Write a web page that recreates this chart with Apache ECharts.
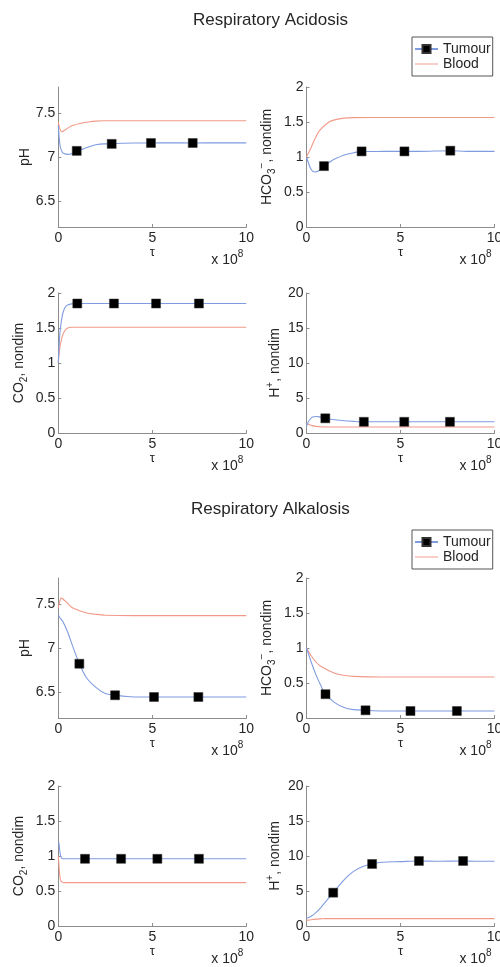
<!DOCTYPE html>
<html>
<head>
<meta charset="utf-8">
<script src="https://cdn.jsdelivr.net/npm/echarts@6/dist/echarts.min.js"></script>
<style>html,body{margin:0;padding:0;background:#fff}#c{width:500px;height:967px}</style>
</head>
<body>
<div id="c"></div>
<script>
// ---------- DATA (tau in units of 1e8) ----------
// Respiratory Acidosis: pH
const acidPhTau      = [0, 0.1, 0.2, 0.3, 0.5, 0.75, 1.3, 1.6, 2, 2.4, 3.4, 4, 6, 8.5, 10];
const acidPhTumour   = [7.36, 7.12, 7.06, 7.04, 7.03, 7.04, 7.09, 7.115, 7.14, 7.15, 7.158, 7.16, 7.162, 7.162, 7.162];
const acidPhBlood    = [7.40, 7.31, 7.29, 7.30, 7.33, 7.36, 7.39, 7.40, 7.41, 7.415, 7.415, 7.415, 7.415, 7.415, 7.415];
const acidPhMarkTau  = [0.98, 2.84, 4.93, 7.15];
const acidPhMarkVal  = [7.07, 7.15, 7.16, 7.16];
// Respiratory Acidosis: HCO3-
const acidHco3Tau    = [0, 0.25, 0.45, 0.7, 1.2, 1.5, 2, 2.5, 3.5, 4, 6, 8.5, 10];
const acidHco3Tumour = [1.0, 0.82, 0.785, 0.81, 0.92, 0.97, 1.03, 1.06, 1.078, 1.08, 1.08, 1.08, 1.08];
const acidHco3Blood  = [1.0, 1.14, 1.26, 1.38, 1.50, 1.53, 1.555, 1.563, 1.565, 1.565, 1.565, 1.565, 1.565];
const acidHco3MarkTau = [0.93, 2.93, 5.21, 7.65];
const acidHco3MarkVal = [0.87, 1.08, 1.08, 1.09];
// Respiratory Acidosis: CO2
const acidCo2Tau     = [0, 0.05, 0.1, 0.2, 0.3, 0.4, 0.5, 0.7, 1.5, 4, 6, 8.5, 10];
const acidCo2Tumour  = [1.0, 1.28, 1.47, 1.66, 1.76, 1.81, 1.83, 1.845, 1.85, 1.85, 1.85, 1.85, 1.85];
const acidCo2Blood   = [1.0, 1.15, 1.25, 1.37, 1.44, 1.48, 1.50, 1.51, 1.51, 1.51, 1.51, 1.51, 1.51];
const acidCo2MarkTau = [1.01, 2.96, 5.2, 7.48];
const acidCo2MarkVal = [1.85, 1.85, 1.85, 1.85];
// Respiratory Acidosis: H+
const acidHTau       = [0, 0.1, 0.2, 0.3, 0.5, 0.7, 1.5, 2, 2.5, 4, 6, 8.5, 10];
const acidHTumour    = [1.0, 1.6, 2.0, 2.25, 2.35, 2.3, 1.9, 1.75, 1.66, 1.6, 1.6, 1.6, 1.6];
const acidHBlood     = [1.3, 1.25, 1.15, 1.05, 0.95, 0.9, 0.86, 0.85, 0.85, 0.85, 0.85, 0.85, 0.85];
const acidHMarkTau   = [1.0, 3.05, 5.2, 7.63];
const acidHMarkVal   = [2.1, 1.6, 1.6, 1.6];
// Respiratory Alkalosis: pH
const alkPhTau       = [0, 0.1, 0.15, 0.25, 0.5, 0.75, 1.5, 2, 2.5, 4, 6, 8.5, 10];
const alkPhTumour    = [7.38, 7.34, 7.33, 7.30, 7.18, 7.03, 6.66, 6.55, 6.48, 6.44, 6.44, 6.44, 6.44];
const alkPhBlood     = [7.46, 7.55, 7.57, 7.56, 7.51, 7.46, 7.40, 7.385, 7.375, 7.37, 7.37, 7.37, 7.37];
const alkPhMarkTau   = [1.12, 3.02, 5.09, 7.45];
const alkPhMarkVal   = [6.82, 6.46, 6.44, 6.44];
// Respiratory Alkalosis: HCO3-
const alkHco3Tau     = [0, 0.25, 0.5, 0.75, 1.5, 2, 2.5, 4, 6, 10];
const alkHco3Tumour  = [1.0, 0.80, 0.62, 0.47, 0.22, 0.15, 0.12, 0.10, 0.10, 0.10];
const alkHco3Blood   = [1.0, 0.89, 0.80, 0.74, 0.64, 0.61, 0.595, 0.585, 0.585, 0.585];
const alkHco3MarkTau = [1.01, 3.14, 5.53, 8.0];
const alkHco3MarkVal = [0.34, 0.11, 0.10, 0.10];
// Respiratory Alkalosis: CO2
const alkCo2Tau      = [0, 0.03, 0.06, 0.1, 0.15, 0.2, 0.3, 0.6, 2, 4, 6, 8.5, 10];
const alkCo2Tumour   = [1.2, 1.19, 1.12, 1.03, 0.98, 0.965, 0.96, 0.96, 0.96, 0.96, 0.96, 0.96, 0.96];
const alkCo2Blood    = [1.0, 0.90, 0.78, 0.68, 0.64, 0.63, 0.62, 0.62, 0.62, 0.62, 0.62, 0.62, 0.62];
const alkCo2MarkTau  = [1.42, 3.34, 5.27, 7.48];
const alkCo2MarkVal  = [0.96, 0.96, 0.96, 0.96];
// Respiratory Alkalosis: H+
const alkHTau        = [0, 0.25, 0.5, 0.75, 1, 2, 2.5, 3, 4, 5, 7, 9, 10];
const alkHTumour     = [1.1, 1.4, 1.9, 2.6, 3.4, 6.6, 7.8, 8.5, 9.1, 9.2, 9.25, 9.25, 9.25];
const alkHBlood      = [0.8, 0.9, 0.98, 1.02, 1.05, 1.05, 1.05, 1.05, 1.05, 1.05, 1.05, 1.05, 1.05];
const alkHMarkTau    = [1.42, 3.49, 5.98, 8.33];
const alkHMarkVal    = [4.76, 8.86, 9.29, 9.29];

const xTicks = [0, 5, 10];
const titles = ['Respiratory Acidosis', 'Respiratory Alkalosis'];
const seriesNames = ['Tumour', 'Blood'];

// ---------- LAYOUT ----------
const BLUE = '#7f9ce0', RED = '#f29a88', AXIS = '#8c8c8c', TXT = '#262626';
const FONT = 'Liberation Sans, Arial, Helvetica, sans-serif';
const colLeft = [58.3, 306.5];
const rowTop = [87, 293, 578, 786];
const W = 188, H = 140;

const panels = [
  {r:0,c:0,tau:acidPhTau,tum:acidPhTumour,bl:acidPhBlood,mt:acidPhMarkTau,mv:acidPhMarkVal,ymin:6.2,ymax:7.8,ticks:[6.5,7,7.5],name:'pH',gap:22},
  {r:0,c:1,tau:acidHco3Tau,tum:acidHco3Tumour,bl:acidHco3Blood,mt:acidHco3MarkTau,mv:acidHco3MarkVal,ymin:0,ymax:2,ticks:[0,0.5,1,1.5,2],name:'HCO{sub|3}{sup|−}, nondim',gap:29},
  {r:1,c:0,tau:acidCo2Tau,tum:acidCo2Tumour,bl:acidCo2Blood,mt:acidCo2MarkTau,mv:acidCo2MarkVal,ymin:0,ymax:2,ticks:[0,0.5,1,1.5,2],name:'CO{sub|2}, nondim',gap:29},
  {r:1,c:1,tau:acidHTau,tum:acidHTumour,bl:acidHBlood,mt:acidHMarkTau,mv:acidHMarkVal,ymin:0,ymax:20,ticks:[0,5,10,15,20],name:'H{sup|+}, nondim',gap:21},
  {r:2,c:0,tau:alkPhTau,tum:alkPhTumour,bl:alkPhBlood,mt:alkPhMarkTau,mv:alkPhMarkVal,ymin:6.2,ymax:7.8,ticks:[6.5,7,7.5],name:'pH',gap:22},
  {r:2,c:1,tau:alkHco3Tau,tum:alkHco3Tumour,bl:alkHco3Blood,mt:alkHco3MarkTau,mv:alkHco3MarkVal,ymin:0,ymax:2,ticks:[0,0.5,1,1.5,2],name:'HCO{sub|3}{sup|−}, nondim',gap:29},
  {r:3,c:0,tau:alkCo2Tau,tum:alkCo2Tumour,bl:alkCo2Blood,mt:alkCo2MarkTau,mv:alkCo2MarkVal,ymin:0,ymax:2,ticks:[0,0.5,1,1.5,2],name:'CO{sub|2}, nondim',gap:29},
  {r:3,c:1,tau:alkHTau,tum:alkHTumour,bl:alkHBlood,mt:alkHMarkTau,mv:alkHMarkVal,ymin:0,ymax:20,ticks:[0,5,10,15,20],name:'H{sup|+}, nondim',gap:21}
];

function mergeTumour(tau, vals, mt, mv) {
  const pts = tau.map((t, i) => ({t, v: vals[i], m: false}));
  mt.forEach((t, i) => pts.push({t, v: mv[i], m: true}));
  pts.sort((a, b) => a.t - b.t);
  return pts.map(p => p.m ? {value: [p.t, p.v]} : {value: [p.t, p.v], symbol: 'none'});
}

const richName = {
  n:   {fontSize: 14, fontFamily: FONT, color: TXT, lineHeight: 20, verticalAlign: 'middle'},
  sub: {fontSize: 10, fontFamily: FONT, color: TXT, lineHeight: 20, verticalAlign: 'bottom'},
  sup: {fontSize: 10, fontFamily: FONT, color: TXT, lineHeight: 20, verticalAlign: 'top'}
};
function wrapName(s) {
  return s.split(/(\{(?:sub|sup)\|[^}]*\})/).filter(x => x.length).map(x => x.startsWith('{') ? x : '{n|' + x + '}').join('');
}

const grid = [], xAxis = [], yAxis = [], series = [], graphic = [];
panels.forEach((p, i) => {
  grid.push({left: colLeft[p.c], top: rowTop[p.r], width: W, height: H, outerBoundsMode: 'none', containLabel: false});
  xAxis.push({
    type: 'value', gridIndex: i, min: 0, max: 10, interval: 5,
    name: 'τ', nameLocation: 'middle', nameGap: 17,
    nameTextStyle: {fontSize: 13, fontFamily: FONT, color: TXT},
    axisLine: {show: true, lineStyle: {color: AXIS, width: 1}},
    axisTick: {show: true, inside: true, length: 3, lineStyle: {color: AXIS}},
    axisLabel: {fontSize: 14, fontFamily: FONT, color: TXT, margin: 4, showMinLabel: true, showMaxLabel: true},
    splitLine: {show: false}
  });
  yAxis.push({
    type: 'value', gridIndex: i, min: p.ymin, max: p.ymax,
    name: wrapName(p.name), nameLocation: 'middle', nameRotate: 90, nameGap: p.gap,
    nameTextStyle: {fontSize: 14, fontFamily: FONT, color: TXT, rich: richName},
    axisLine: {show: true, lineStyle: {color: AXIS, width: 1}},
    axisTick: {show: true, inside: true, length: 3, lineStyle: {color: AXIS}, customValues: p.ticks},
    axisLabel: {fontSize: 14, fontFamily: FONT, color: TXT, margin: 3, customValues: p.ticks},
    splitLine: {show: false}
  });
  series.push({
    name: 'Blood', type: 'line', xAxisIndex: i, yAxisIndex: i, symbol: 'none', smooth: 0.3,
    lineStyle: {color: RED, width: 1.1}, itemStyle: {color: RED},
    data: p.tau.map((t, k) => [t, p.bl[k]]), animation: false, z: 2
  });
  series.push({
    name: 'Tumour', type: 'line', xAxisIndex: i, yAxisIndex: i, symbol: 'rect', symbolSize: 9,
    showSymbol: true, smooth: 0.3,
    lineStyle: {color: BLUE, width: 1.1}, itemStyle: {color: '#000', borderColor: '#333', borderWidth: 0.5},
    data: mergeTumour(p.tau, p.tum, p.mt, p.mv), animation: false, z: 3
  });
  graphic.push({
    type: 'text', right: 500 - (colLeft[p.c] + W) + 3, top: rowTop[p.r] + H + 22,
    style: {
      text: '{a|x 10}{s|8}', fill: TXT,
      rich: {
        a: {fontSize: 14, fontFamily: FONT, fill: TXT, lineHeight: 18, verticalAlign: 'bottom'},
        s: {fontSize: 10, fontFamily: FONT, fill: TXT, lineHeight: 18, verticalAlign: 'top'}
      }
    }
  });
});

const legendData = [
  {name: seriesNames[0]},
  {name: seriesNames[1], icon: 'path://M0,4.5h24v1h-24z', itemStyle: {color: RED}}
];
const legendCommon = {
  orient: 'vertical', left: 412, data: legendData, itemWidth: 23, itemHeight: 10, itemGap: 1,
  padding: [5, 2, 5, 2], borderColor: '#555', borderWidth: 1, backgroundColor: '#fff', borderRadius: 0,
  textStyle: {fontSize: 14, fontFamily: FONT, color: TXT, lineHeight: 14}, selectedMode: false
};

const titleStyle = {fontSize: 17, fontWeight: 'normal', fontFamily: FONT, color: TXT};
const option = {
  backgroundColor: '#fff',
  animation: false,
  title: [
    {text: titles[0], left: 188, top: 7, textStyle: titleStyle},
    {text: titles[1], left: 186, top: 496, textStyle: titleStyle}
  ],
  legend: [Object.assign({top: 37}, legendCommon), Object.assign({top: 530}, legendCommon)],
  grid, xAxis, yAxis, series, graphic
};

const chart = echarts.init(document.getElementById('c'), null, {renderer: 'canvas'});
chart.setOption(option);
</script>
</body>
</html>
